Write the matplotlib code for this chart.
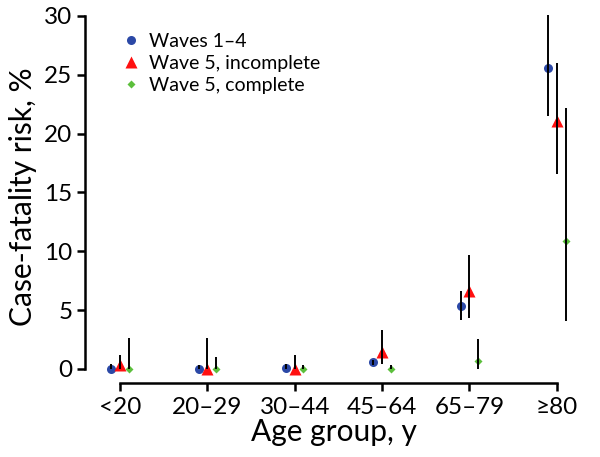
import matplotlib
matplotlib.use("Agg")
import matplotlib.pyplot as plt
import numpy as np

plt.rcParams['font.family'] = ['Lato', 'DejaVu Sans']

groups = ['<20', '20\u201329', '30\u201344', '45\u201364', '65\u201379', '\u226580']

# waves 1-4
w14 = [0.0, 0.0, 0.1, 0.6, 5.35, 25.6]
w14_lo = [0.0, 0.0, 0.0, 0.35, 4.2, 21.5]
w14_hi = [0.4, 0.3, 0.4, 0.8, 6.65, 30.1]

# wave 5, incomplete
w5i = [0.35, 0.0, 0.0, 1.45, 6.65, 21.1]
w5i_lo = [0.0, 0.0, 0.0, 0.4, 4.3, 16.6]
w5i_hi = [1.15, 2.6, 1.2, 3.3, 9.7, 26.0]

# wave 5, complete
w5c = [0.0, 0.0, 0.0, 0.0, 0.65, 10.9]
w5c_lo = [0.0, 0.0, 0.0, 0.0, 0.0, 4.1]
w5c_hi = [2.6, 1.0, 0.3, 0.3, 2.55, 22.2]

fig = plt.figure(figsize=(6, 4.57), dpi=100)
ax = fig.add_axes([0.1417, 0.162, 0.83, 0.816])

x = np.arange(len(groups))
series = [
    (w14, w14_lo, w14_hi, -0.1, 'o', '#2B48A6', 6.5, 'Waves 1\u20134'),
    (w5i, w5i_lo, w5i_hi, 0.0, '^', '#FF1010', 8.0, 'Wave 5, incomplete'),
    (w5c, w5c_lo, w5c_hi, 0.1, 'D', '#5CBF3C', 4.5, 'Wave 5, complete'),
]
for vals, lo, hi, off, mk, col, ms, lab in series:
    vals = np.array(vals)
    err = [vals - np.array(lo), np.array(hi) - vals]
    ax.plot(x + off, vals, linestyle='none', marker=mk, color=col, ms=ms,
            mec='none', label=lab, zorder=2)
    ax.errorbar(x + off, vals, yerr=err, fmt='none', ecolor='black',
                elinewidth=1.4, capsize=0, zorder=3)

ax.set_xlim(-0.4, 5.3)
ax.set_ylim(-1.19, 30.5)
ax.spines['top'].set_visible(False)
ax.spines['right'].set_visible(False)
ax.spines['left'].set_bounds(0, 30)
ax.spines['bottom'].set_bounds(0, 5)
for s in ('left', 'bottom'):
    ax.spines[s].set_linewidth(1.8)

ax.set_yticks([0, 5, 10, 15, 20, 25, 30])
ax.set_xticks(x)
ax.set_xticklabels(groups)
ax.tick_params(axis='both', direction='out', length=6, width=1.8,
               labelsize=17.5, colors='black')
ax.tick_params(axis='y', pad=3)
ax.tick_params(axis='x', pad=4)

ax.set_ylabel('Case-fatality risk, %', fontsize=21.5, labelpad=5)
ax.set_xlabel('Age group, y', fontsize=21.5, labelpad=0)

leg = ax.legend(loc='upper left', bbox_to_anchor=(0.054, 0.96), frameon=False,
                fontsize=14, handletextpad=0.3, labelspacing=0.27,
                handlelength=1.2, borderaxespad=0)

fig.savefig('out.png', dpi=100)
